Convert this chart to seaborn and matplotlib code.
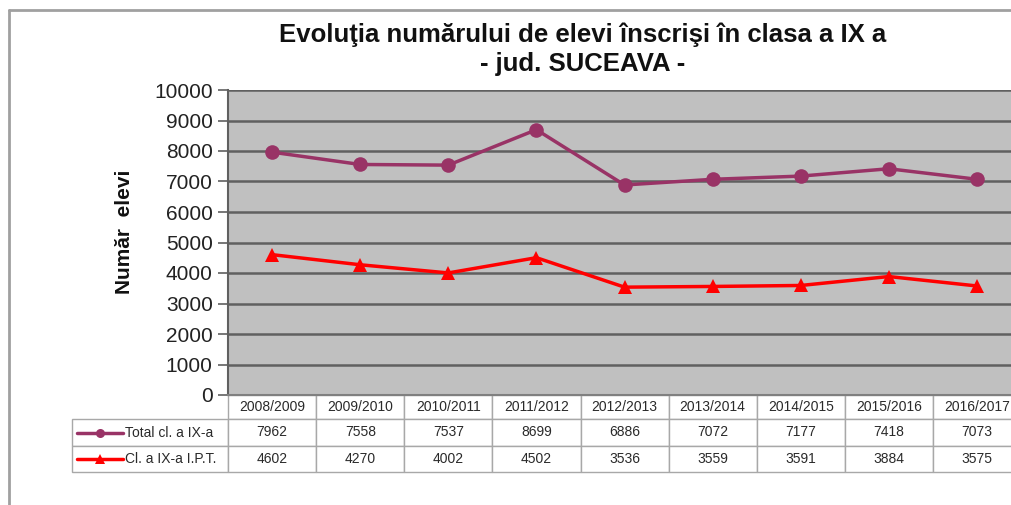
import matplotlib
matplotlib.use('Agg')
import matplotlib.pyplot as plt
import pandas as pd
import seaborn as sns
from matplotlib.lines import Line2D

years = ['2008/2009', '2009/2010', '2010/2011', '2011/2012', '2012/2013',
         '2013/2014', '2014/2015', '2015/2016', '2016/2017']
total = [7962, 7558, 7537, 8699, 6886, 7072, 7177, 7418, 7073]
ipt = [4602, 4270, 4002, 4502, 3536, 3559, 3591, 3884, 3575]
series_names = ['Total cl. a IX-a', 'Cl. a IX-a I.P.T.']
title = 'Evoluţia numărului de elevi înscrişi în clasa a IX a\n- jud. SUCEAVA -'
ylabel = 'Număr  elevi'
yticks = list(range(0, 10001, 1000))

sns.set_style('white')
plt.rcParams['font.family'] = ['Liberation Sans', 'DejaVu Sans']

W, H = 1012, 505
fig = plt.figure(figsize=(W / 100, H / 100), dpi=100)


def fy(py):
    return 1 - py / H


AX_L, AX_R, AX_T, AX_B = 228, 1021, 90, 395
axw, axh = AX_R - AX_L, AX_B - AX_T
ax = fig.add_axes([AX_L / W, 1 - AX_B / H, axw / W, axh / H])
ax.set_facecolor('#C0C0C0')

df = pd.DataFrame({
    'year': years * 2,
    'value': total + ipt,
    'series': [series_names[0]] * len(years) + [series_names[1]] * len(years),
})
colors = ['#993366', '#FF0000']
palette = dict(zip(series_names, colors))
mk = dict(zip(series_names, ['o', '^']))
sns.lineplot(data=df, x='year', y='value', hue='series', style='series',
             markers=mk, dashes=False, palette=palette, lw=2.5,
             markersize=10.5, markeredgewidth=0, ax=ax, legend=False, sort=False)

ax.set_xlim(-0.5, len(years) - 0.5)
ax.set_ylim(0, 10000)
ax.set_yticks(yticks)
ax.set_yticklabels([str(t) for t in yticks])
ax.yaxis.grid(True, color='#606060', lw=1.8)
ax.xaxis.grid(False)
ax.set_axisbelow(True)
ax.tick_params(axis='y', length=7, width=1.2, color='#606060', direction='out',
               labelsize=15, pad=4, left=True, labelcolor='#222222')
ax.tick_params(axis='x', length=0, labelbottom=False)
ax.set_xlabel('')
ax.set_ylabel('')
for s in ['top', 'right']:
    ax.spines[s].set_visible(False)
ax.spines['left'].set_color('#606060')
ax.spines['left'].set_linewidth(1.5)
ax.spines['bottom'].set_color('#808080')
ax.spines['bottom'].set_linewidth(1.5)

# data table (first column holds the row headers / legend keys)
cell_text = [[''] + [str(v) for v in total], [''] + [str(v) for v in ipt]]
TBL_L, TBL_B = 72, 472
tbl = ax.table(cellText=cell_text, colLabels=[''] + years, cellLoc='center',
               colWidths=[156] + [88] * len(years),
               bbox=[(TBL_L - AX_L) / axw, -(TBL_B - AX_B) / axh,
                     (AX_R - TBL_L) / axw, (TBL_B - AX_B) / axh])
tbl.auto_set_font_size(False)
tbl.set_fontsize(10)
for (r, c), cell in tbl.get_celld().items():
    cell.set_height(24 if r == 0 else 26.5)
    cell.set_edgecolor('#A8A8A8')
    cell.set_linewidth(1.0)
    cell.set_facecolor('white')
    cell.get_text().set_color('#2a2a2a')
tbl[0, 0].visible_edges = ''

# legend keys in the table's row headers
row_y = [433, 459]
for name, col, m, yy in zip(series_names, colors, ['o', '^'], row_y):
    fig.add_artist(Line2D([77 / W, 123 / W], [fy(yy), fy(yy)], color=col, lw=2.5,
                          transform=fig.transFigure))
    fig.add_artist(Line2D([100 / W], [fy(yy)], color=col, marker=m, markersize=6.5,
                          markeredgewidth=0, transform=fig.transFigure))
    fig.text(125 / W, fy(yy), name, ha='left', va='center', fontsize=10, color='#2a2a2a')

# title and y label
fig.text(583 / W, fy(49), title, ha='center', va='center', fontsize=18.5,
         fontweight='bold', linespacing=1.25, color='#111111')
fig.text(125 / W, fy(232), ylabel, rotation=90, ha='center', va='center',
         fontsize=15, fontweight='bold', color='#111111')

# outer chart border
fig.add_artist(Line2D([9 / W, 1], [fy(10), fy(10)], color='#A0A0A0', lw=2,
                      transform=fig.transFigure))
fig.add_artist(Line2D([9.5 / W, 9.5 / W], [fy(10), 0], color='#A0A0A0', lw=2,
                      transform=fig.transFigure))

fig.savefig('out.png', dpi=100)
